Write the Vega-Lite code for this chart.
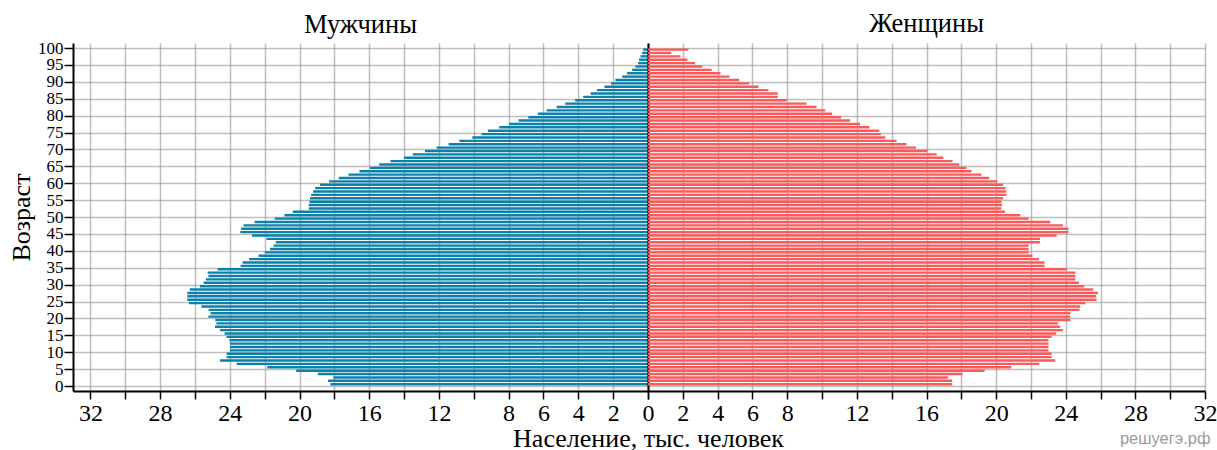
{
  "$schema": "https://vega.github.io/schema/vega-lite/v6.json",
  "padding": {"left": 8, "top": 10, "right": 0, "bottom": 0},
  "bounds": "flush",
  "spacing": 0,
  "background": "white",
  "config": {
    "view": {"stroke": null},
    "font": "Liberation Serif",
    "title": {"font": "Liberation Serif", "fontSize": 26.5, "fontWeight": "normal", "color": "black"},
    "axis": {
      "labelFont": "Liberation Serif", "titleFont": "Liberation Serif",
      "labelColor": "black", "titleColor": "black", "titleFontWeight": "normal",
      "domainColor": "black", "domainWidth": 2, "tickColor": "black", "tickWidth": 1.5,
      "gridColor": "#888", "gridOpacity": 0.55, "gridWidth": 1.5, "zindex": 1,
      "labelFlush": false, "labelOverlap": false
    }
  },
  "datasets": {
    "pop": [
      {"age":0,"sex":"m","value":18.23},{"age":1,"sex":"m","value":18.36},{"age":2,"sex":"m","value":18.06},{"age":3,"sex":"m","value":18.95},{"age":4,"sex":"m","value":20.19},
      {"age":5,"sex":"m","value":21.85},{"age":6,"sex":"m","value":23.61},{"age":7,"sex":"m","value":24.56},{"age":8,"sex":"m","value":24.18},{"age":9,"sex":"m","value":24.18},
      {"age":10,"sex":"m","value":23.99},{"age":11,"sex":"m","value":23.99},{"age":12,"sex":"m","value":23.99},{"age":13,"sex":"m","value":24.02},{"age":14,"sex":"m","value":24.18},
      {"age":15,"sex":"m","value":24.30},{"age":16,"sex":"m","value":24.56},{"age":17,"sex":"m","value":24.85},{"age":18,"sex":"m","value":24.77},{"age":19,"sex":"m","value":24.83},
      {"age":20,"sex":"m","value":25.23},{"age":21,"sex":"m","value":25.10},{"age":22,"sex":"m","value":25.21},{"age":23,"sex":"m","value":25.63},{"age":24,"sex":"m","value":26.34},
      {"age":25,"sex":"m","value":26.44},{"age":26,"sex":"m","value":26.44},{"age":27,"sex":"m","value":26.44},{"age":28,"sex":"m","value":26.30},{"age":29,"sex":"m","value":25.71},
      {"age":30,"sex":"m","value":25.50},{"age":31,"sex":"m","value":25.37},{"age":32,"sex":"m","value":25.23},{"age":33,"sex":"m","value":25.27},{"age":34,"sex":"m","value":24.70},
      {"age":35,"sex":"m","value":23.38},{"age":36,"sex":"m","value":23.27},{"age":37,"sex":"m","value":22.89},{"age":38,"sex":"m","value":22.35},{"age":39,"sex":"m","value":21.99},
      {"age":40,"sex":"m","value":21.70},{"age":41,"sex":"m","value":21.49},{"age":42,"sex":"m","value":21.36},{"age":43,"sex":"m","value":21.89},{"age":44,"sex":"m","value":22.73},
      {"age":45,"sex":"m","value":23.40},{"age":46,"sex":"m","value":23.36},{"age":47,"sex":"m","value":23.21},{"age":48,"sex":"m","value":22.58},{"age":49,"sex":"m","value":21.42},
      {"age":50,"sex":"m","value":20.86},{"age":51,"sex":"m","value":20.39},{"age":52,"sex":"m","value":19.47},{"age":53,"sex":"m","value":19.47},{"age":54,"sex":"m","value":19.43},
      {"age":55,"sex":"m","value":19.39},{"age":56,"sex":"m","value":19.33},{"age":57,"sex":"m","value":19.22},{"age":58,"sex":"m","value":19.10},{"age":59,"sex":"m","value":18.82},
      {"age":60,"sex":"m","value":18.30},{"age":61,"sex":"m","value":17.75},{"age":62,"sex":"m","value":17.19},{"age":63,"sex":"m","value":16.56},{"age":64,"sex":"m","value":15.95},
      {"age":65,"sex":"m","value":15.43},{"age":66,"sex":"m","value":14.78},{"age":67,"sex":"m","value":14.00},{"age":68,"sex":"m","value":13.50},{"age":69,"sex":"m","value":12.80},
      {"age":70,"sex":"m","value":12.13},{"age":71,"sex":"m","value":11.44},{"age":72,"sex":"m","value":10.83},{"age":73,"sex":"m","value":10.08},{"age":74,"sex":"m","value":9.55},
      {"age":75,"sex":"m","value":9.19},{"age":76,"sex":"m","value":8.54},{"age":77,"sex":"m","value":7.96},{"age":78,"sex":"m","value":7.43},{"age":79,"sex":"m","value":6.87},
      {"age":80,"sex":"m","value":6.32},{"age":81,"sex":"m","value":5.82},{"age":82,"sex":"m","value":5.24},{"age":83,"sex":"m","value":4.75},{"age":84,"sex":"m","value":4.18},
      {"age":85,"sex":"m","value":3.72},{"age":86,"sex":"m","value":3.30},{"age":87,"sex":"m","value":2.93},{"age":88,"sex":"m","value":2.50},{"age":89,"sex":"m","value":2.12},
      {"age":90,"sex":"m","value":1.87},{"age":91,"sex":"m","value":1.48},{"age":92,"sex":"m","value":1.20},{"age":93,"sex":"m","value":0.91},{"age":94,"sex":"m","value":0.72},
      {"age":95,"sex":"m","value":0.57},{"age":96,"sex":"m","value":0.51},{"age":97,"sex":"m","value":0.43},{"age":98,"sex":"m","value":0.34},{"age":99,"sex":"m","value":0.28},
      {"age":0,"sex":"f","value":17.48},{"age":1,"sex":"f","value":17.48},{"age":2,"sex":"f","value":17.23},{"age":3,"sex":"f","value":18.06},{"age":4,"sex":"f","value":19.34},
      {"age":5,"sex":"f","value":20.87},{"age":6,"sex":"f","value":22.48},{"age":7,"sex":"f","value":23.40},{"age":8,"sex":"f","value":23.19},{"age":9,"sex":"f","value":23.19},
      {"age":10,"sex":"f","value":23.01},{"age":11,"sex":"f","value":23.01},{"age":12,"sex":"f","value":23.01},{"age":13,"sex":"f","value":23.01},{"age":14,"sex":"f","value":23.19},
      {"age":15,"sex":"f","value":23.45},{"age":16,"sex":"f","value":23.84},{"age":17,"sex":"f","value":23.68},{"age":18,"sex":"f","value":23.57},{"age":19,"sex":"f","value":24.26},
      {"age":20,"sex":"f","value":24.26},{"age":21,"sex":"f","value":24.26},{"age":22,"sex":"f","value":24.79},{"age":23,"sex":"f","value":24.83},{"age":24,"sex":"f","value":25.12},
      {"age":25,"sex":"f","value":25.77},{"age":26,"sex":"f","value":25.75},{"age":27,"sex":"f","value":25.85},{"age":28,"sex":"f","value":25.58},{"age":29,"sex":"f","value":25.06},
      {"age":30,"sex":"f","value":24.76},{"age":31,"sex":"f","value":24.56},{"age":32,"sex":"f","value":24.56},{"age":33,"sex":"f","value":24.56},{"age":34,"sex":"f","value":24.05},
      {"age":35,"sex":"f","value":22.78},{"age":36,"sex":"f","value":22.78},{"age":37,"sex":"f","value":22.46},{"age":38,"sex":"f","value":22.08},{"age":39,"sex":"f","value":21.87},
      {"age":40,"sex":"f","value":21.87},{"age":41,"sex":"f","value":21.87},{"age":42,"sex":"f","value":22.52},{"age":43,"sex":"f","value":22.52},{"age":44,"sex":"f","value":23.47},
      {"age":45,"sex":"f","value":24.16},{"age":46,"sex":"f","value":24.16},{"age":47,"sex":"f","value":23.84},{"age":48,"sex":"f","value":23.11},{"age":49,"sex":"f","value":21.87},
      {"age":50,"sex":"f","value":21.39},{"age":51,"sex":"f","value":20.51},{"age":52,"sex":"f","value":20.30},{"age":53,"sex":"f","value":20.34},{"age":54,"sex":"f","value":20.30},
      {"age":55,"sex":"f","value":20.40},{"age":56,"sex":"f","value":20.59},{"age":57,"sex":"f","value":20.59},{"age":58,"sex":"f","value":20.53},{"age":59,"sex":"f","value":20.40},
      {"age":60,"sex":"f","value":20.06},{"age":61,"sex":"f","value":19.60},{"age":62,"sex":"f","value":19.16},{"age":63,"sex":"f","value":18.59},{"age":64,"sex":"f","value":18.30},
      {"age":65,"sex":"f","value":17.88},{"age":66,"sex":"f","value":17.50},{"age":67,"sex":"f","value":16.97},{"age":68,"sex":"f","value":16.59},{"age":69,"sex":"f","value":16.05},
      {"age":70,"sex":"f","value":15.40},{"age":71,"sex":"f","value":14.85},{"age":72,"sex":"f","value":14.28},{"age":73,"sex":"f","value":13.63},{"age":74,"sex":"f","value":13.38},
      {"age":75,"sex":"f","value":13.29},{"age":76,"sex":"f","value":12.72},{"age":77,"sex":"f","value":12.18},{"age":78,"sex":"f","value":11.61},{"age":79,"sex":"f","value":11.09},
      {"age":80,"sex":"f","value":10.58},{"age":81,"sex":"f","value":10.18},{"age":82,"sex":"f","value":9.68},{"age":83,"sex":"f","value":9.11},{"age":84,"sex":"f","value":7.97},
      {"age":85,"sex":"f","value":7.45},{"age":86,"sex":"f","value":7.45},{"age":87,"sex":"f","value":6.92},{"age":88,"sex":"f","value":6.35},{"age":89,"sex":"f","value":5.81},
      {"age":90,"sex":"f","value":5.24},{"age":91,"sex":"f","value":4.69},{"age":92,"sex":"f","value":4.17},{"age":93,"sex":"f","value":3.66},{"age":94,"sex":"f","value":3.12},
      {"age":95,"sex":"f","value":2.71},{"age":96,"sex":"f","value":2.27},{"age":97,"sex":"f","value":1.87},{"age":98,"sex":"f","value":1.33},{"age":99,"sex":"f","value":2.32}
    ]
  },
  "hconcat": [
    {
      "width": 575,
      "height": 348,
      "data": {"name": "pop"},
      "transform": [{"filter": "datum.sex === 'm'"}],
      "title": {"text": "Мужчины", "anchor": "middle", "frame": "group", "offset": 1},
      "mark": {"type": "bar", "orient": "horizontal", "height": 2.4, "yOffset": -1.8, "color": "#0b80a8"},
      "encoding": {
        "y": {
          "field": "age", "type": "quantitative",
          "scale": {"domain": [0, 100], "nice": false, "zero": false},
          "axis": {
            "values": [0,5,10,15,20,25,30,35,40,45,50,55,60,65,70,75,80,85,90,95,100],
            "title": "Возраст", "titleFontSize": 26, "titlePadding": 3,
            "labelFontSize": 17, "labelPadding": 1, "tickSize": 9, "grid": true
          }
        },
        "x": {
          "field": "value", "type": "quantitative",
          "scale": {"domain": [0, 33], "reverse": true, "nice": false, "zero": true},
          "axis": {
            "values": [0,2,4,6,8,10,12,14,16,18,20,22,24,26,28,30,32],
            "labelExpr": "datum.value <= 8 || datum.value % 4 == 0 ? datum.label : ''",
            "labelFontSize": 24, "labelPadding": 2, "tickSize": 8, "grid": true,
            "title": "Население, тыс. человек", "titleFontSize": 26, "titleX": 575, "titleAlign": "center", "titlePadding": 0
          }
        }
      }
    },
    {
      "width": 557,
      "height": 348,
      "data": {"name": "pop"},
      "transform": [{"filter": "datum.sex === 'f'"}],
      "title": {"text": "Женщины", "anchor": "middle", "frame": "group", "offset": 6},
      "mark": {"type": "bar", "orient": "horizontal", "height": 2.4, "yOffset": -1.8, "color": "#fa5a5a"},
      "encoding": {
        "y": {
          "field": "age", "type": "quantitative",
          "scale": {"domain": [0, 100], "nice": false, "zero": false},
          "axis": {
            "values": [0,5,10,15,20,25,30,35,40,45,50,55,60,65,70,75,80,85,90,95,100],
            "labels": false, "ticks": false, "title": null, "grid": true
          }
        },
        "x": {
          "field": "value", "type": "quantitative",
          "scale": {"domain": [0, 32], "nice": false, "zero": true},
          "axis": {
            "values": [0,2,4,6,8,10,12,14,16,18,20,22,24,26,28,30,32],
            "labelExpr": "datum.value > 0 && (datum.value <= 8 || datum.value % 4 == 0) ? datum.label : ''",
            "labelFontSize": 24, "labelPadding": 2, "tickSize": 8, "grid": true,
            "title": "решуегэ.рф", "titleFont": "Liberation Sans", "titleFontSize": 16.5, "titleColor": "#9a9a9a",
            "titleX": 562, "titleAlign": "right", "titlePadding": 5
          }
        }
      }
    }
  ]
}
